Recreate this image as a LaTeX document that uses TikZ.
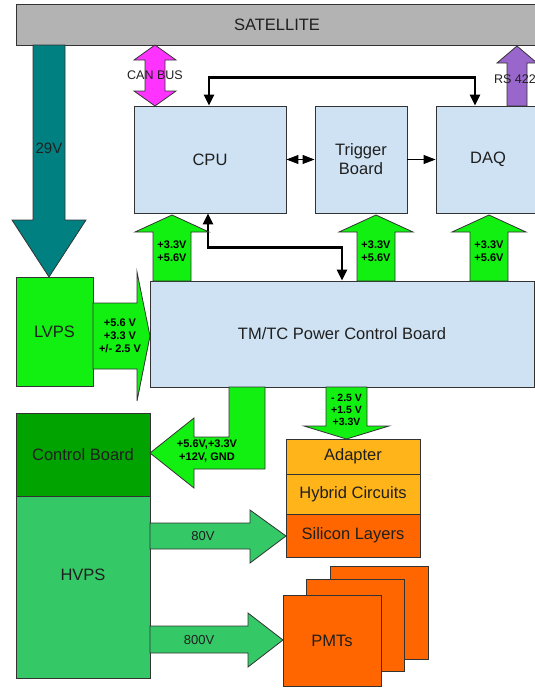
\documentclass[tikz,border=0pt]{standalone}
\usepackage{fontspec}
\setmainfont{Liberation Sans}
\usetikzlibrary{arrows.meta,calc}
\definecolor{satgray}{RGB}{179,179,179}
\definecolor{feedteal}{RGB}{0,128,128}
\definecolor{canpink}{RGB}{255,51,255}
\definecolor{rspurple}{RGB}{153,102,204}
\definecolor{boardblue}{RGB}{207,226,243}
\definecolor{lvgreen}{RGB}{17,240,17}
\definecolor{ctrlgreen}{RGB}{0,163,0}
\definecolor{hvgreen}{RGB}{52,200,102}
\definecolor{detyellow}{RGB}{255,180,25}
\definecolor{detorange}{RGB}{255,102,0}
\definecolor{edgegray}{RGB}{51,51,51}
\tikzset{
  blk/.style  = {draw=edgegray, line width=0.9pt, inner sep=2pt, align=center, text=black!88, font=\fontsize{16.5}{19}\selectfont},
  fat/.style  = {draw=edgegray, line width=0.8pt, line join=miter},
  vlab/.style = {align=center, font=\fontsize{11}{13}\selectfont\bfseries, inner sep=0pt},
  plab/.style = {align=center, font=\fontsize{13}{15}\selectfont, text=black!88, inner sep=0pt},
  bus/.style  = {line width=2.4pt, {Triangle[length=11pt,width=10pt]}-{Triangle[length=11pt,width=10pt]}},
  sig/.style  = {line width=1pt},
  >={Triangle[length=12pt,width=9pt]},
}
\begin{document}
\begin{tikzpicture}[x=1pt, y=-1pt]
  \useasboundingbox (0,0) rectangle (535,689);
  % satellite on top
  \node[blk, fill=satgray, minimum width=522, minimum height=41] (sat) at (277,24.5) {SATELLITE};
  \draw[fat, fill=feedteal] (33,45) -- (65,45) -- (65,220) -- (86,220) -- (49,277) -- (12,220) -- (33,220) -- cycle;
  \node[plab, font=\fontsize{15}{17}\selectfont] (v29) at (49,148) {29V};
  \draw[fat, fill=canpink] (155,45) -- (176,60) -- (165,60) -- (165,91) -- (176,91) -- (155,106) -- (134,91) -- (145,91) -- (145,60) -- (134,60) -- cycle;
  \node[plab, font=\fontsize{12.5}{15}\selectfont] (can) at (155,75) {CAN BUS};
  \draw[fat, fill=rspurple] (507,106) -- (507,63) -- (497,63) -- (517,46) -- (537,63) -- (527,63) -- (527,106) -- cycle;
  \node[plab, font=\fontsize{12.5}{15}\selectfont] (rs) at (515,79) {RS 422};

  % electronics boards
  \node[blk, fill=boardblue, minimum width=152, minimum height=107] (cpu) at (210,159.5) {CPU};
  \node[blk, fill=boardblue, minimum width=92, minimum height=107] (trig) at (361,159.5) {Trigger\\Board};
  \node[blk, fill=boardblue, minimum width=104, minimum height=107] (daq) at (488,159.5) {DAQ};
  \node[blk, fill=boardblue, minimum width=384, minimum height=106] (tmtc) at (342,334) {TM/TC Power Control Board};
  \node[blk, fill=lvgreen, minimum width=77, minimum height=109] (lvps) at (54.5,331.5) {LVPS};
  \node[blk, fill=ctrlgreen, minimum width=134, minimum height=83] (ctrl) at (83,454.5) {Control Board};
  \node[blk, fill=hvgreen, minimum width=134, minimum height=182, text depth=24pt] (hvps) at (83,587) {HVPS};

  % detectors
  \node[blk, fill=detyellow, minimum width=134, minimum height=35] (adapt) at (353,456.5) {Adapter};
  \node[blk, fill=detyellow, minimum width=134, minimum height=40] (hybrid) at (353,494) {Hybrid Circuits};
  \node[blk, fill=detorange, minimum width=134, minimum height=43] (silicon) at (353,535.5) {Silicon Layers};
  \node[blk, fill=detorange, minimum width=98, minimum height=93] (pmtc) at (379,612.5) {};
  \node[blk, fill=detorange, minimum width=98, minimum height=92] (pmtb) at (355,625) {};
  \node[blk, fill=detorange, minimum width=98, minimum height=91] (pmta) at (332,640.5) {PMTs};

  % data lines
  \draw[bus] ([xshift=-1pt]cpu.north) -- ++(0,-28) -| ([xshift=-13pt]daq.north);
  \draw[bus] ([xshift=-2pt]cpu.south) -- ++(0,34) -| (tmtc.north);
  \draw[sig, <->] (cpu.east) -- (trig.west);
  \draw[sig, ->] (trig.east) -- (daq.west);

  % low voltage
  \draw[fat, fill=lvgreen] (153,281) -- (153,232) -- (135,232) -- (172,215) -- (209,232) -- (191,232) -- (191,281) -- cycle;
  \node[vlab] (lvcpu) at (172,251.5) {+3.3V\\+5.6V};
  \draw[fat, fill=lvgreen] (357,281) -- (357,232) -- (339,232) -- (376,215) -- (413,232) -- (395,232) -- (395,281) -- cycle;
  \node[vlab] (lvtrig) at (376,251.5) {+3.3V\\+5.6V};
  \draw[fat, fill=lvgreen] (470,281) -- (470,232) -- (452,232) -- (489,215) -- (526,232) -- (508,232) -- (508,281) -- cycle;
  \node[vlab] (lvdaq) at (489,251.5) {+3.3V\\+5.6V};
  \draw[fat, fill=lvgreen] (93,303) -- (137,303) -- (137,272) -- (150,336) -- (137,401) -- (137,369) -- (93,369) -- cycle;
  \node[vlab] (lvin) at (120,336) {+5.6 V\\+3.3 V\\+/- 2.5 V};
  \draw[fat, fill=lvgreen] (229,387) -- (265,387) -- (265,469) -- (194,469) -- (194,488) -- (150,453) -- (194,418) -- (194,437) -- (229,437) -- cycle;
  \node[vlab] (lvctrl) at (207,451.5) {+5.6V,+3.3V\\+12V, GND};
  \draw[fat, fill=lvgreen] (326,387) -- (367,387) -- (367,426) -- (389,426) -- (346.5,439) -- (304,426) -- (326,426) -- cycle;
  \node[vlab, font=\fontsize{10.5}{12}\selectfont\bfseries] (lvadapt) at (346.5,410) {- 2.5 V\\+1.5 V\\+3.3V};

  % high voltage
  \draw[fat, fill=hvgreen] (150,523) -- (250,523) -- (250,510) -- (286,536) -- (250,563) -- (250,549) -- (150,549) -- cycle;
  \node[plab] (hv80) at (203,536) {80V};
  \draw[fat, fill=hvgreen] (150,626) -- (248,626) -- (248,613) -- (283,640) -- (248,667) -- (248,653) -- (150,653) -- cycle;
  \node[plab] (hv800) at (199,640) {800V};
\end{tikzpicture}
\end{document}
